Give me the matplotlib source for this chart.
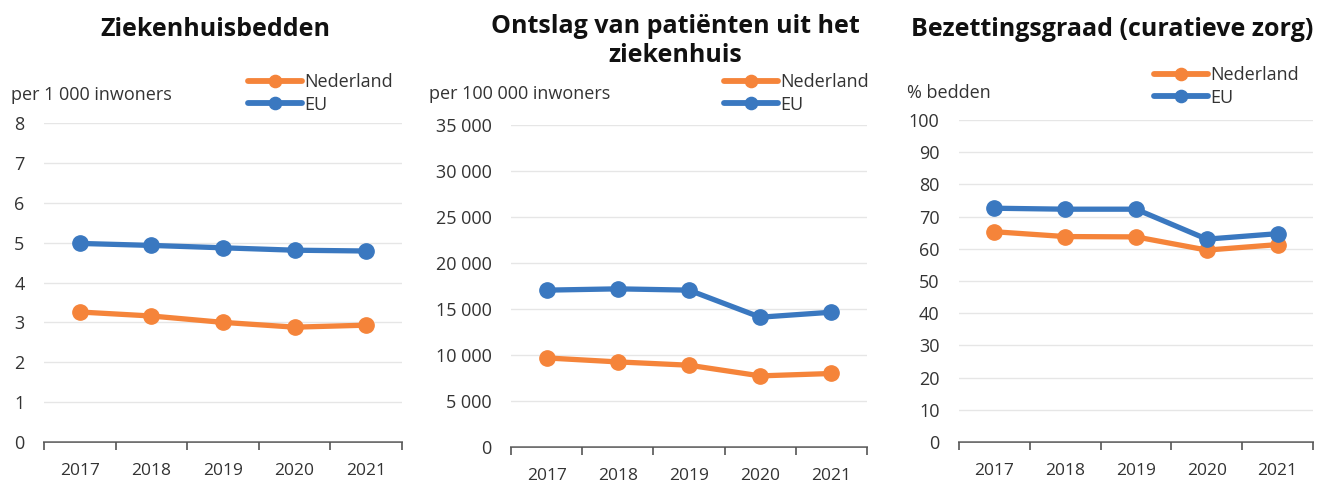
import numpy as np
import matplotlib.pyplot as plt
from matplotlib.ticker import FuncFormatter, FixedLocator

plt.rcParams['font.family'] = ['Open Sans', 'DejaVu Sans']

# Gegevens
jaren = ['2017', '2018', '2019', '2020', '2021']

bedden_nl = [3.26, 3.16, 3.00, 2.88, 2.93]
bedden_eu = [4.98, 4.93, 4.87, 4.81, 4.79]

ontslag_nl = [9680, 9250, 8890, 7730, 7990]
ontslag_eu = [17050, 17190, 17050, 14110, 14650]

bezetting_nl = [65.3, 63.8, 63.7, 59.6, 61.3]
bezetting_eu = [72.6, 72.3, 72.3, 63.0, 64.7]

titels = ['Ziekenhuisbedden', 'Ontslag van patiënten uit het\nziekenhuis',
          'Bezettingsgraad (curatieve zorg)']
eenheden = ['per 1 000 inwoners', 'per 100 000 inwoners', '% bedden']
ymax = [8, 35000, 100]
ystap = [1, 5000, 10]

oranje = '#F5843A'
blauw = '#3A78C0'
tekst = '#333333'

fig = plt.figure(figsize=(13.19, 4.82), dpi=100)
W, H = 1319, 482

# assen posities in pixels (links, rechts, boven, onder)
posities = [(44, 402, 123, 442), (511, 867, 125, 447), (959, 1313, 120, 442)]
titel_pos = [(215, 30), (675, 41), (1112, 30)]
eenheid_pos = [(11, 95), (429, 94), (907, 93)]
legenda_pos = [(400, 66), (876, 66), (1306, 59)]

reeksen = [(bedden_nl, bedden_eu), (ontslag_nl, ontslag_eu), (bezetting_nl, bezetting_eu)]


def duizend(v, p):
    return f'{int(v):,}'.replace(',', ' ')


x = np.arange(len(jaren))
for i in range(3):
    l, r, t, b = posities[i]
    ax = fig.add_axes([l / W, 1 - b / H, (r - l) / W, (b - t) / H])
    nl, eu = reeksen[i]
    ax.plot(x, nl, color=oranje, lw=3.8, marker='o', ms=11, label='Nederland',
            solid_capstyle='round')
    ax.plot(x, eu, color=blauw, lw=3.8, marker='o', ms=11, label='EU',
            solid_capstyle='round')
    ax.set_xlim(-0.5, len(jaren) - 0.5)
    ax.set_ylim(0, ymax[i])
    ax.set_yticks(np.arange(0, ymax[i] + ystap[i], ystap[i]))
    ax.yaxis.set_major_formatter(FuncFormatter(duizend))
    ax.set_xticks(x)
    ax.set_xticklabels(jaren)
    ax.xaxis.set_minor_locator(FixedLocator(np.arange(-0.5, len(jaren), 1)))
    ax.tick_params(axis='x', which='major', length=0, pad=15, labelsize=12.5, colors=tekst)
    ax.tick_params(axis='x', which='minor', length=6, width=1.2, color='#555555')
    ax.tick_params(axis='y', length=0, pad=14, labelsize=13, colors=tekst)
    ax.grid(axis='y', color='#E6E6E6', lw=1)
    ax.set_axisbelow(True)
    for s in ['top', 'right', 'left']:
        ax.spines[s].set_visible(False)
    ax.spines['bottom'].set_color('#555555')
    ax.spines['bottom'].set_linewidth(1.2)
    ax.spines['bottom'].set_zorder(0.5)
    for ln in ax.lines:
        ln.set_clip_on(False)

    lx, ly = legenda_pos[i]
    leg = ax.legend(loc='upper right', bbox_to_anchor=(lx / W, 1 - ly / H),
                    bbox_transform=fig.transFigure, frameon=False, fontsize=13,
                    handlelength=3.0, handletextpad=0.1, labelspacing=0.25,
                    markerscale=0.8, borderaxespad=0, labelcolor=tekst)
    for h in leg.get_lines():
        h.set_linewidth(4.2)

    tx, ty = titel_pos[i]
    fig.text(tx / W, 1 - ty / H, titels[i], ha='center', va='center',
             fontsize=18, fontweight='bold', color='#111111', linespacing=1.2)
    ex, ey = eenheid_pos[i]
    fig.text(ex / W, 1 - ey / H, eenheden[i], ha='left', va='center',
             fontsize=13, color=tekst)

fig.savefig('out.png', dpi=100)
